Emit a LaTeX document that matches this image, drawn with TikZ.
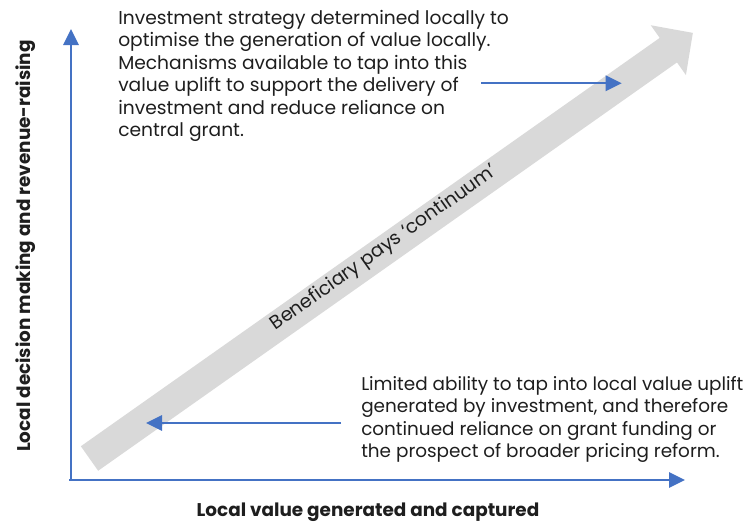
\documentclass[tikz,border=0pt]{standalone}
\usepackage{fontspec}
\setmainfont{Poppins}
\usetikzlibrary{arrows.meta}
\definecolor{axisblue}{HTML}{4472C4}
\definecolor{bandgray}{HTML}{D9D9D9}
\definecolor{inktext}{HTML}{1E1E1E}
\tikzset{
  bluearrow/.style={draw=axisblue, line width=1.6pt, -{Triangle[length=12pt,width=11.5pt]}},
  bodytext/.style={inner sep=0pt, align=left, text=inktext, font=\fontsize{14pt}{16.8pt}\selectfont},
  axislabel/.style={inner sep=0pt, text=inktext, font=\bfseries\fontsize{13.8pt}{16pt}\selectfont},
}
\begin{document}
\begin{tikzpicture}[x=0.75pt, y=-0.75pt]
  \useasboundingbox (0,0) rectangle (756,521);

  % broad grey band running from bottom-left to top-right
  \begin{scope}[shift={(89.5,458.5)}, rotate=35.2]
    \fill[bandgray] (0,-15) -- (708.4,-15) -- (708.4,-30.5) -- (738.4,0)
      -- (708.4,30.5) -- (708.4,15) -- (0,15) -- cycle;
    \node[rotate=35.2, text=inktext, inner sep=0pt,
          font=\fontsize{14.2pt}{16pt}\selectfont] (band) at (362,-2)
      {Beneficiary pays ‘continuum’};
  \end{scope}

  % axes
  \coordinate (origin) at (71,480);
  \coordinate (ytop) at (71,29);
  \coordinate (xend) at (685,480);
  \draw[bluearrow] (origin) -- (ytop);
  \draw[bluearrow] ([xshift=-1.2]origin) -- (xend);

  % axis labels
  \node[axislabel, rotate=90] (ylabel) at (26,246)
    {Local decision making and revenue-raising};
  \node[axislabel, anchor=base] (xlabel) at (368,516)
    {Local value generated and captured};

  % upper description and its pointer
  \node[bodytext, anchor=north west] (hightext) at (118,10)
    {Investment strategy determined locally to\\
     optimise the generation of value locally.\\
     Mechanisms available to tap into this\\
     value uplift to support the delivery of\\
     investment and reduce reliance on\\
     central grant.};
  \coordinate (hifrom) at (481,83.3);
  \coordinate (hito) at (621.7,83.3);
  \draw[bluearrow] (hifrom) -- (hito);

  % lower description and its pointer
  \node[bodytext, anchor=north west, font=\fontsize{13.8pt}{16.8pt}\selectfont] (lowtext) at (361,376)
    {Limited ability to tap into local value uplift\\
     generated by investment, and therefore\\
     continued reliance on grant funding or\\
     the prospect of broader pricing reform.};
  \coordinate (lofrom) at (341,423);
  \coordinate (loto) at (146,423);
  \draw[bluearrow] (lofrom) -- (loto);
\end{tikzpicture}
\end{document}
